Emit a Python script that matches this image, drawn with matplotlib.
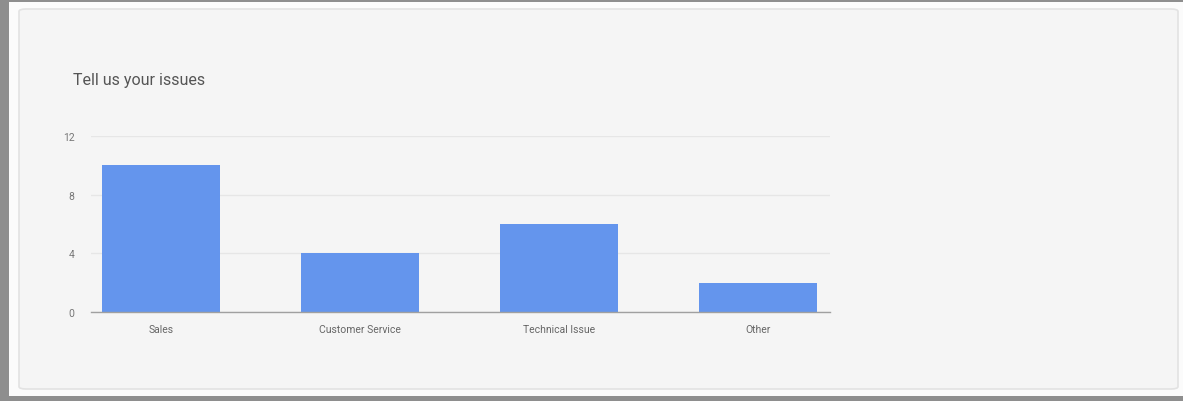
import matplotlib
matplotlib.use("Agg")
import matplotlib.pyplot as plt
from matplotlib.patches import FancyBboxPatch, Rectangle

categories = ["Sales", "Customer Service", "Technical Issue", "Other"]
values = [10, 4, 6, 2]
yticks = [0, 4, 8, 12]
title = "Tell us your issues"

W, H = 1183, 402
fig = plt.figure(figsize=(W / 100, H / 100), dpi=100)
fig.patch.set_facecolor("#fbfbfb")

def fx(px):
    return px / W

def fy(py):
    return 1 - py / H

# outer gray frame bands
fig.patches.append(Rectangle((0, 0), fx(9), 1, transform=fig.transFigure, facecolor="#8e8e8e", edgecolor="none", zorder=0))
fig.patches.append(Rectangle((0, fy(3)), 1, 3 / H, transform=fig.transFigure, facecolor="#8e8e8e", edgecolor="none", zorder=0))
fig.patches.append(Rectangle((0, 0), 1, 5 / H, transform=fig.transFigure, facecolor="#8e8e8e", edgecolor="none", zorder=0))

# card
card = FancyBboxPatch((fx(19), fy(390)), fx(1178) - fx(19), fy(10) - fy(390),
                      boxstyle="round,pad=0,rounding_size=0.006",
                      transform=fig.transFigure, facecolor="#f5f5f5",
                      edgecolor="#e2e2e2", linewidth=1.2, zorder=1)
fig.patches.append(card)

fig.text(fx(73), fy(80), title, fontsize=11.5, color="#555555",
         family=["Roboto", "DejaVu Sans"], va="center", ha="left", zorder=3)

ax = fig.add_axes([fx(91), fy(313), fx(830) - fx(91), fy(137) - fy(313)])
ax.set_facecolor("none")
ax.set_zorder(2)

x = list(range(len(categories)))
ax.bar(x, values, width=0.593, color="#6495ED", zorder=3)
ax.set_xlim(-0.35, 3.36)
ax.set_ylim(0, 12)
ax.set_yticks(yticks)
ax.set_yticklabels([str(v) for v in yticks], family=["Roboto", "DejaVu Sans"], fontsize=7.5, color="#777777")
ax.set_xticks(x)
ax.set_xticklabels(categories, family=["Roboto", "DejaVu Sans"], fontsize=7.5, color="#666666")
ax.tick_params(axis="both", length=0)
ax.tick_params(axis="y", pad=12)
ax.tick_params(axis="x", pad=9)
for s in ["top", "right", "left"]:
    ax.spines[s].set_visible(False)
ax.spines["bottom"].set_color("#a0a0a0")
ax.spines["bottom"].set_linewidth(1.0)
ax.spines["bottom"].set_zorder(4)
ax.yaxis.grid(True, color="#e6e6e6", linewidth=1.0, zorder=0)
ax.set_axisbelow(True)

fig.savefig("out.png", dpi=100, facecolor=fig.get_facecolor())
